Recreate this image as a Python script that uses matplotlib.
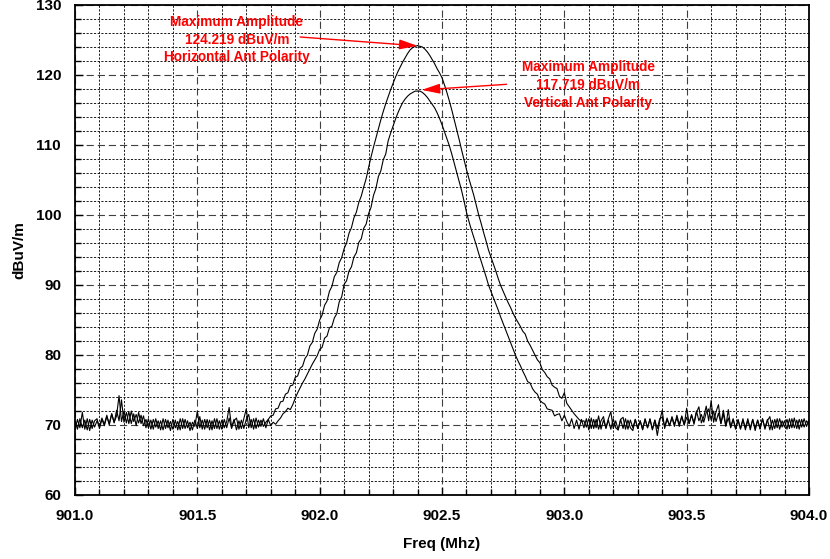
"""Field strength sweep around 902.4 MHz, horizontal and vertical antenna polarity."""
import matplotlib

matplotlib.use("Agg")
import matplotlib.pyplot as plt
import numpy as np
from matplotlib.ticker import MultipleLocator, FormatStrFormatter

plt.rcParams["font.family"] = ["Liberation Sans", "DejaVu Sans"]
plt.rcParams["font.weight"] = "bold"

# sweep: 901.00 .. 904.00 MHz, 0.01 MHz per sample
FREQ_START, FREQ_STEP = 901.0, 0.01

# horizontal antenna polarity trace (dBuV/m)
HORIZ_DBUV = [
    # 901.00 - 901.78 noise floor
    69.3, 70.8, 69.6, 71.8, 69.4, 70.9, 69.2, 70.7, 69.7, 70.6,
    69.8, 71.0, 70.1, 71.4, 70.0, 71.6, 70.4, 71.3, 74.2, 70.5,
    72.0, 70.3, 71.9, 70.2, 71.6, 69.9, 71.8, 70.2, 71.3, 69.6,
    70.9, 69.4, 70.8, 69.7, 70.6, 69.3, 70.9, 69.5, 70.7, 69.2,
    70.8, 69.6, 70.5, 69.3, 70.9, 69.5, 70.6, 69.2, 70.4, 69.8,
    72.0, 69.6, 70.7, 69.4, 70.8, 69.3, 70.6, 69.5, 70.9, 69.4,
    70.7, 69.6, 70.5, 72.5, 69.7, 70.8, 69.3, 70.6, 69.5, 70.9,
    72.3, 69.6, 70.8, 69.4, 71.0, 69.7, 70.7, 69.8, 70.4,
    # 901.79 - 902.40 rising edge
    70.8, 71.3, 71.4, 72.3, 72.4, 73.3, 73.4, 74.4, 74.6, 75.6,
    75.7, 76.8, 77.0, 78.1, 78.4, 79.5, 80.0, 81.3, 81.8, 83.1,
    83.7, 85.0, 85.7, 87.1, 87.7, 89.1, 89.8, 91.2, 91.8, 93.2,
    93.9, 95.2, 96.0, 97.4, 98.2, 99.6, 100.4, 101.8, 102.7, 104.0,
    105.2, 106.8, 108.3, 109.7, 111.0, 112.3, 113.6, 114.8, 115.9, 116.9,
    117.9, 118.8, 119.7, 120.5, 121.2, 121.9, 122.5, 123.1, 123.6, 123.9,
    124.1, 124.2,
    # 902.41 - 903.08 falling edge
    124.1, 124.0, 123.7, 123.3, 122.8, 122.2, 121.6, 120.9, 120.3, 119.6,
    118.6, 117.5, 116.3, 115.0, 113.6, 112.2, 110.8, 109.3, 107.9, 106.5,
    105.2, 104.0, 102.8, 101.4, 100.0, 98.8, 97.5, 96.3, 95.0, 94.0,
    93.0, 92.0, 90.9, 89.9, 89.1, 88.3, 87.5, 86.8, 86.0, 85.3,
    84.7, 84.1, 83.4, 83.0, 82.0, 81.4, 80.7, 80.0, 79.3, 78.9,
    77.9, 77.5, 76.9, 76.6, 75.7, 75.4, 75.2, 74.1, 73.8, 74.6,
    73.1, 72.6, 72.1, 71.6, 71.2, 70.8, 70.5, 70.6,
    # 903.09 - 904.00 noise floor
    69.7, 70.9, 69.5, 70.8, 69.6, 71.3, 69.4, 70.7, 69.6, 70.9,
    71.9, 69.5, 70.6, 69.3, 70.8, 71.1, 69.4, 70.7, 69.6, 69.2,
    70.8, 69.5, 70.6, 69.3, 70.9, 69.6, 70.8, 69.4, 70.7, 68.5,
    70.6, 72.1, 69.5, 70.8, 69.9, 71.0, 69.8, 71.4, 70.1, 71.2,
    70.0, 72.4, 70.2, 71.5, 70.1, 71.8, 72.6, 70.3, 71.2, 72.7,
    70.6, 73.5, 70.4, 71.9, 72.9, 70.2, 71.6, 69.8, 72.2, 69.7,
    70.8, 69.4, 70.7, 69.5, 70.9, 69.3, 70.6, 69.6, 70.8, 69.2,
    70.7, 69.5, 70.9, 69.4, 70.6, 71.2, 69.3, 70.8, 69.6, 70.9,
    69.7, 70.6, 69.4, 70.9, 69.6, 71.0, 69.5, 70.8, 69.7, 70.9,
    69.8, 70.7,
]

# vertical antenna polarity trace (dBuV/m)
VERT_DBUV = [
    # 901.00 - 901.83 noise floor
    70.6, 69.4, 70.9, 69.6, 70.7, 69.3, 70.8, 69.5, 70.6, 70.9,
    69.5, 70.8, 69.9, 71.2, 70.2, 71.6, 70.3, 72.1, 70.6, 73.6,
    70.4, 71.8, 70.2, 72.0, 70.5, 71.5, 70.3, 71.4, 69.9, 70.8,
    69.6, 70.7, 69.4, 70.9, 69.5, 70.6, 69.3, 70.8, 69.6, 70.5,
    69.4, 70.7, 69.3, 70.9, 69.5, 70.8, 69.6, 70.4, 69.3, 70.7,
    69.5, 71.2, 69.4, 70.8, 69.6, 70.7, 69.3, 70.9, 69.5, 70.6,
    69.4, 70.8, 69.6, 71.0, 69.5, 70.6, 71.0, 69.4, 70.7, 69.5,
    70.8, 71.5, 69.6, 70.9, 69.5, 70.7, 69.8, 70.9, 69.6, 70.8,
    69.9, 70.4, 70.1, 70.6,
    # 901.84 - 902.40 rising edge
    71.0, 71.6, 71.9, 72.4, 72.2, 72.9, 73.8, 74.6, 75.3, 76.0,
    76.6, 77.3, 78.0, 78.7, 79.3, 79.9, 80.8, 81.1, 82.4, 82.7,
    83.9, 84.1, 85.3, 85.9, 87.6, 88.3, 90.1, 90.6, 92.0, 92.6,
    94.0, 94.6, 96.1, 96.6, 98.1, 98.7, 100.2, 101.1, 102.8, 103.8,
    105.5, 106.3, 107.9, 108.7, 110.6, 111.7, 112.7, 113.7, 114.6, 115.4,
    116.1, 116.6, 117.0, 117.3, 117.5, 117.7, 117.7,
    # 902.41 - 903.01 falling edge
    117.7, 117.5, 117.2, 116.8, 116.3, 115.8, 115.3, 114.6, 113.8, 112.9,
    111.9, 110.9, 109.9, 108.7, 107.4, 106.1, 104.8, 103.5, 102.0, 100.4,
    99.1, 97.9, 96.8, 95.7, 94.5, 93.4, 92.3, 91.2, 90.0, 89.1,
    88.2, 87.3, 86.4, 85.4, 84.5, 83.6, 82.7, 81.8, 80.9, 80.0,
    79.2, 78.5, 77.7, 77.0, 76.2, 76.0, 75.2, 74.7, 74.4, 73.5,
    73.2, 73.0, 72.3, 72.2, 72.1, 71.3, 71.5, 71.6, 70.6, 71.4,
    70.5,
    # 903.02 - 904.00 noise floor
    69.8, 70.9, 69.5, 70.7, 69.4, 70.8, 69.6, 70.9, 69.3, 71.0,
    69.5, 70.8, 69.4, 70.6, 71.2, 69.5, 70.7, 69.4, 70.9, 69.6,
    69.3, 70.8, 69.5, 70.9, 69.4, 70.7, 69.6, 70.8, 69.5, 70.6,
    69.4, 70.8, 69.6, 70.9, 69.3, 70.7, 69.5, 70.9, 71.1, 69.8,
    71.0, 69.9, 71.2, 70.1, 71.0, 69.8, 71.3, 70.0, 71.1, 70.2,
    71.4, 70.3, 72.0, 70.6, 71.5, 70.4, 71.8, 72.3, 70.7, 72.0,
    70.5, 71.7, 70.2, 72.1, 69.9, 71.0, 69.6, 70.9, 69.5, 70.8,
    69.4, 70.7, 69.6, 70.9, 69.3, 70.8, 69.5, 70.7, 69.4, 70.9,
    69.6, 70.8, 69.3, 70.7, 69.5, 70.9, 69.4, 70.6, 69.7, 70.8,
    69.5, 70.9, 69.6, 70.7, 69.4, 70.8, 69.7, 70.6, 70.1,
]

X_TICKS = [901.0, 901.5, 902.0, 902.5, 903.0, 903.5, 904.0]
Y_TICKS = [60, 70, 80, 90, 100, 110, 120, 130]

HORIZ_PEAK = (902.40, 124.219)
VERT_PEAK = (902.40, 117.719)
HORIZ_NOTE = "Maximum Amplitude\n124.219 dBuV/m\nHorizontal Ant Polarity"
VERT_NOTE = "Maximum Amplitude\n117.719 dBuV/m\nVertical Ant Polarity"

RED = "#ff0000"

freq = FREQ_START + FREQ_STEP * np.arange(len(HORIZ_DBUV))
freq_v = FREQ_START + FREQ_STEP * np.arange(len(VERT_DBUV))

fig = plt.figure(figsize=(8.30, 5.59), dpi=100)
ax = fig.add_axes([75 / 830, 1 - 495 / 559, 734 / 830, 490 / 559])

ax.plot(freq, HORIZ_DBUV, color="black", lw=0.8, zorder=3)
ax.plot(freq_v, VERT_DBUV, color="black", lw=0.8, zorder=3)

ax.set_xlim(X_TICKS[0], X_TICKS[-1])
ax.set_ylim(Y_TICKS[0], Y_TICKS[-1])
ax.set_xticks(X_TICKS)
ax.set_yticks(Y_TICKS)
ax.xaxis.set_major_formatter(FormatStrFormatter("%.1f"))
ax.xaxis.set_minor_locator(MultipleLocator(0.1))
ax.yaxis.set_minor_locator(MultipleLocator(2))

ax.grid(which="major", color="#404040", lw=0.8, linestyle=(0, (6.5, 3.5)))
ax.grid(which="minor", color="#1a1a1a", lw=0.7, linestyle=(0, (2.2, 1.6)))
ax.tick_params(which="both", direction="in", color="black", width=1.0)
ax.tick_params(which="major", length=6, pad=10, labelsize=11)
ax.tick_params(which="minor", length=4)
for spine in ax.spines.values():
    spine.set_linewidth(1.3)

ax.set_xlabel("Freq (Mhz)", fontsize=11, fontweight="bold", labelpad=10)
ax.set_ylabel("dBuV/m", fontsize=11, fontweight="bold", labelpad=7)

# peak callouts
note_style = dict(color=RED, fontsize=9.8, fontweight="bold", ha="center", va="center",
                  multialignment="center", linespacing=1.35, zorder=4)
ax.text(901.662, 125.07, HORIZ_NOTE, **note_style)
ax.text(903.097, 118.57, VERT_NOTE, **note_style)
arrow = dict(arrowstyle="-|>,head_length=0.55,head_width=0.15", color=RED,
             lw=1.0, mutation_scale=20, shrinkA=0, shrinkB=0)
ax.annotate("", xy=(HORIZ_PEAK[0], HORIZ_PEAK[1] - 0.05), xytext=(901.92, 125.43),
            arrowprops=arrow, zorder=5)
ax.annotate("", xy=(VERT_PEAK[0] + 0.017, VERT_PEAK[1] + 0.15), xytext=(902.764, 118.67),
            arrowprops=arrow, zorder=5)

fig.savefig("out.png", dpi=100)
